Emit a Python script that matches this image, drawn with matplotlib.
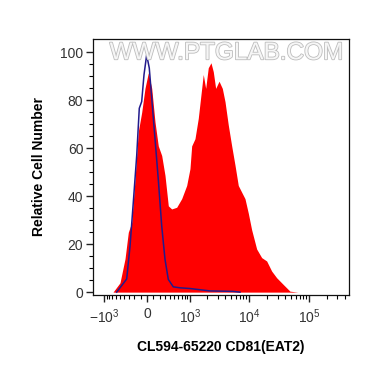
import numpy as np
import matplotlib
matplotlib.use("Agg")
import matplotlib.pyplot as plt
import matplotlib.patheffects as pe

plt.rcParams['font.family'] = ['Liberation Sans', 'DejaVu Sans']
plt.rcParams['mathtext.fontset'] = 'custom'
plt.rcParams['mathtext.rm'] = 'Liberation Sans'
plt.rcParams['mathtext.it'] = 'Liberation Sans'

# Sample (red, filled) histogram: fluorescence value vs relative cell number
red_x = [-683, -493, -379, -312, -249, -191, -136, -82, -31, 20, 73, 125, 179, 238,
         299, 365, 438, 561, 705, 874, 1003, 1076, 1230, 1404, 1608, 1712, 1882,
         2083, 2315, 2532, 2778, 3166, 3594, 3986, 4527, 5158, 5857, 6649, 7573,
         8598, 9758, 11118, 13466, 16322, 19772, 23940, 29020, 37380, 48340, 65720]
red_y = [0, 3.9, 13.9, 25, 29, 47, 67, 75, 85, 91.5, 85, 71, 61, 57,
         48.7, 36, 34.7, 35.4, 39, 44.5, 51.5, 61, 64, 72.5, 85, 90.8, 85,
         93.6, 95.7, 92, 85, 88, 85, 79.5, 69.7, 61, 53, 44.5, 41.7,
         39, 33, 26, 18, 14.4, 13, 8.8, 6, 3.2, 0.4, 0]

# Control (blue line) histogram
blue_x = [-577, -344, -280, -220, -162, -120, -82, -46, -5, 35, 73, 125, 179, 238,
          299, 365, 476, 653, 1003, 1502, 2226, 5418, 7094]
blue_y = [0, 5.5, 19, 37.5, 57, 76.7, 79.5, 90.7, 99, 93.5, 81, 64, 47, 27.7,
          13.7, 5.3, 2.2, 1.8, 1.5, 1.0, 0.5, 0.3, 0]

x_major = [-1000, 0, 1000, 10000, 100000]
x_major_labels = [r'$-10^3$', '0', r'$10^3$', r'$10^4$', r'$10^5$']
y_major = [0, 20, 40, 60, 80, 100]

W = 400.0
def fwd(x):
    return np.arcsinh(np.asarray(x, dtype=float) / W) / np.log(10)
def inv(u):
    return W * np.sinh(np.asarray(u, dtype=float) * np.log(10))

fig = plt.figure(figsize=(3.70, 3.67), dpi=100)
ax = fig.add_axes([0.2514, 0.1975, 0.6916, 0.6955])
ax.set_xscale('function', functions=(fwd, inv))

ax.fill_between(red_x, red_y, 0, color='#ff0000', linewidth=0, zorder=2)
ax.plot(blue_x, blue_y, color='#221a8c', linewidth=1.1, zorder=3)

ax.set_xlim(-1563, 465000)
ax.set_ylim(-1, 105.5)

ax.set_xticks(x_major)
ax.set_xticklabels(x_major_labels)
minor = []
for k in range(1, 10):
    minor += [-100 * k, 100 * k]
for dec in [1000, 10000]:
    minor += [dec * k for k in range(2, 10)]
minor += [100000 * k for k in range(2, 5)]
ax.set_xticks(minor, minor=True)
ax.set_yticks(y_major)
ax.set_yticks(np.arange(0, 105, 5), minor=True)

ax.tick_params(axis='both', which='major', direction='out', length=5, width=1.0,
               labelsize=10, colors='#222222', labelcolor='#333333', pad=2)
ax.tick_params(axis='both', which='minor', direction='out', length=3, width=0.8)
ax.tick_params(axis='x', which='major', pad=4)
for sp in ax.spines.values():
    sp.set_linewidth(0.9)
    sp.set_color('#111111')

ax.set_ylabel('Relative Cell Number', fontsize=10, fontweight='bold', labelpad=10)
ax.set_xlabel('CL594-65220 CD81(EAT2)', fontsize=10, fontweight='bold', labelpad=10)

ax.text(0.52, 0.945, 'WWW.PTGLAB.COM', transform=ax.transAxes, ha='center', va='center',
        fontsize=17.5, color='#f6f6f6', zorder=4,
        path_effects=[pe.withStroke(linewidth=1.2, foreground='#bdbdbd')])

fig.savefig('out.png', dpi=100)
